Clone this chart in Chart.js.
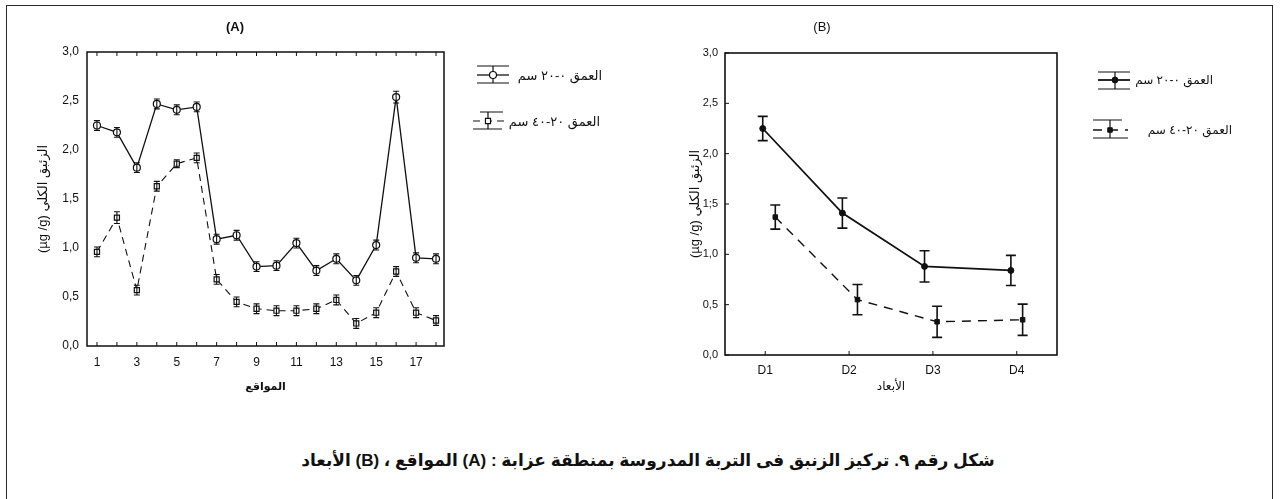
<!DOCTYPE html>
<html>
<head>
<meta charset="utf-8">
<script src="https://cdn.jsdelivr.net/npm/chart.js@4.4.0/dist/chart.umd.min.js"></script>
<style>
html,body{margin:0;padding:0;background:#fff;}
#wrap{position:relative;width:1280px;height:499px;overflow:hidden;background:#fff;font-family:'Liberation Sans','DejaVu Sans',Arial,sans-serif;color:#111;}
#frame{position:absolute;left:6px;top:5px;width:1267px;height:560px;border:1.5px solid #2a2a2a;box-sizing:border-box;}
canvas{position:absolute;top:0;}
#cA{left:0;}
#cB{left:660px;}
.ptitle{position:absolute;top:19px;width:80px;text-align:center;font-size:13px;}
#tA{left:195px;font-weight:bold;}
#tB{left:782px;}
#caption{position:absolute;left:240px;width:816px;top:450px;text-align:center;direction:rtl;font-weight:bold;font-size:17px;}
</style>
</head>
<body>
<div id="wrap">
  <div id="frame"></div>
  <canvas id="cA" width="660" height="410"></canvas>
  <canvas id="cB" width="620" height="410"></canvas>
  <div class="ptitle" id="tA">(A)</div>
  <div class="ptitle" id="tB">(B)</div>
  <div id="caption">شكل رقم ٩.  تركيز الزنبق فى التربة المدروسة بمنطقة عزابة : (A) المواقع ، (B) الأبعاد</div>
</div>
<script>
// ---------- DATA ----------
const seriesLabels = ['العمق ٠-٢٠ سم', 'العمق ٢٠-٤٠ سم'];
const yTickValues = [0, 0.5, 1, 1.5, 2, 2.5, 3];
const yTickLabelsA = ['0,0', '0,5', '1,0', '1,5', '2,0', '2,5', '3,0'];
const yTickLabelsB = ['0,0', '0,5', '1,0', '1;5', '2,0', '2,5', '3,0'];
const yTitle = '(µg /g) الزئبق الكلي';

// Panel A : sites
const sites = [1, 2, 3, 4, 5, 6, 7, 8, 9, 10, 11, 12, 13, 14, 15, 16, 17, 18];
const siteTickLabels = ['1', '', '3', '', '5', '', '7', '', '9', '', '11', '', '13', '', '15', '', '17', ''];
const sitesDepth0_20 = [2.25, 2.18, 1.82, 2.47, 2.41, 2.44, 1.09, 1.13, 0.81, 0.82, 1.05, 0.77, 0.89, 0.67, 1.03, 2.54, 0.90, 0.89];
const sitesErr0_20 = [0.05, 0.05, 0.05, 0.05, 0.05, 0.05, 0.05, 0.05, 0.05, 0.05, 0.05, 0.05, 0.05, 0.05, 0.05, 0.06, 0.05, 0.05];
const sitesDepth20_40 = [0.96, 1.31, 0.57, 1.63, 1.86, 1.92, 0.68, 0.45, 0.38, 0.36, 0.36, 0.38, 0.47, 0.23, 0.34, 0.76, 0.34, 0.26];
const sitesErr20_40 = [0.05, 0.06, 0.05, 0.05, 0.04, 0.05, 0.05, 0.05, 0.05, 0.05, 0.05, 0.05, 0.05, 0.05, 0.05, 0.05, 0.05, 0.05];
const sitesXTitle = 'المواقع';

// Panel B : dimensions
const dims = [1, 2, 3, 4];
const dimTickLabels = ['D1', 'D2', 'D3', 'D4'];
const dimPos0_20 = [0.97, 1.92, 2.90, 3.93];
const dimPos20_40 = [1.12, 2.10, 3.05, 4.07];
const dims0_20 = [2.25, 1.41, 0.88, 0.84];
const dimsErr0_20 = [0.12, 0.15, 0.155, 0.15];
const dims20_40 = [1.37, 0.55, 0.33, 0.35];
const dimsErr20_40 = [0.12, 0.15, 0.155, 0.155];
const dimsXTitle = 'الأبعاد';

// ---------- PLUGINS ----------
Chart.defaults.font.family = "'Liberation Sans','DejaVu Sans',Arial,sans-serif";
Chart.defaults.color = '#111';

const errorBars = {
  id: 'errorBars',
  afterDatasetsDraw(chart, args, opts) {
    const ctx = chart.ctx, ys = chart.scales.y;
    chart.data.datasets.forEach((ds, i) => {
      if (!ds.errors) return;
      const meta = chart.getDatasetMeta(i);
      ctx.save();
      ctx.strokeStyle = '#111';
      ctx.lineWidth = opts.lineWidth || 1.2;
      ctx.setLineDash([]);
      meta.data.forEach((pt, j) => {
        const v = ds.data[j].y, e = ds.errors[j];
        const x = pt.x, yt = ys.getPixelForValue(v + e), yb = ys.getPixelForValue(v - e);
        const c = opts.cap / 2;
        ctx.beginPath();
        ctx.moveTo(x, yt); ctx.lineTo(x, yb);
        ctx.moveTo(x - c, yt); ctx.lineTo(x + c, yt);
        ctx.moveTo(x - c, yb); ctx.lineTo(x + c, yb);
        ctx.stroke();
      });
      ctx.restore();
    });
  }
};

const frame = {
  id: 'frame',
  afterDraw(chart, args, opts) {
    const ctx = chart.ctx, a = chart.chartArea;
    ctx.save();
    ctx.strokeStyle = '#111';
    ctx.lineWidth = opts.lineWidth || 1.5;
    ctx.setLineDash([]);
    ctx.strokeRect(a.left, a.top, a.right - a.left, a.bottom - a.top);
    ctx.lineWidth = 1;
    const L = opts.tickLen;
    ctx.beginPath();
    chart.scales.x.ticks.forEach(t => {
      const x = chart.scales.x.getPixelForValue(t.value);
      ctx.moveTo(x, a.bottom); ctx.lineTo(x, a.bottom - L);
      if (opts.topTicks) { ctx.moveTo(x, a.top); ctx.lineTo(x, a.top + L); }
    });
    if (opts.leftTicks) {
      chart.scales.y.ticks.forEach(t => {
        const y = chart.scales.y.getPixelForValue(t.value);
        ctx.moveTo(a.left, y); ctx.lineTo(a.left + L, y);
      });
    }
    ctx.stroke();
    ctx.restore();
  }
};

const sideLegend = {
  id: 'sideLegend',
  afterDraw(chart, args, opts) {
    const ctx = chart.ctx;
    opts.items.forEach((it, i) => {
      const ds = chart.data.datasets[i];
      ctx.save();
      ctx.strokeStyle = '#111';
      ctx.lineWidth = 1.2;
      const cx = it.mx;
      ctx.setLineDash([]);
      ctx.beginPath();
      ctx.moveTo(it.topX0, it.y - it.up); ctx.lineTo(it.topX1, it.y - it.up);
      ctx.moveTo(it.botX0, it.y + it.down); ctx.lineTo(it.botX1, it.y + it.down);
      ctx.moveTo(cx, it.y - it.up); ctx.lineTo(cx, it.y + it.down);
      ctx.stroke();
      ctx.setLineDash(ds.borderDash || []);
      ctx.lineWidth = ds.borderWidth;
      ctx.beginPath();
      ctx.moveTo(it.x0, it.y); ctx.lineTo(it.x1, it.y);
      ctx.stroke();
      ctx.setLineDash([]);
      ctx.fillStyle = ds.pointBackgroundColor;
      ctx.strokeStyle = '#111';
      ctx.lineWidth = ds.pointBorderWidth;
      Chart.helpers.drawPoint(ctx, {pointStyle: ds.pointStyle, radius: ds.pointRadius, rotation: 0, borderWidth: ds.pointBorderWidth}, cx, it.y);
      ctx.fillStyle = '#111';
      ctx.font = opts.font;
      ctx.direction = 'rtl';
      ctx.textAlign = 'right';
      ctx.textBaseline = 'middle';
      ctx.fillText(ds.label, it.textRight, it.y + 1);
      ctx.restore();
    });
  }
};

function yScale(labels, width, pad, size) {
  return {
    min: 0, max: 3,
    afterBuildTicks: s => { s.ticks = yTickValues.map(v => ({value: v})); },
    afterFit: s => { s.width = width; },
    grid: {display: false, drawTicks: false},
    border: {display: false},
    ticks: {padding: pad, font: {size: size}, color: '#111', callback: (v, i) => labels[i]},
    title: {display: true, text: yTitle, font: {size: 13}, color: '#111', padding: {top: 4, bottom: 4}}
  };
}

// ---------- CHART A ----------
new Chart(document.getElementById('cA'), {
  type: 'line',
  data: {
    datasets: [
      {
        label: seriesLabels[0],
        data: sites.map((s, i) => ({x: s, y: sitesDepth0_20[i]})),
        errors: sitesErr0_20,
        borderColor: '#111', borderWidth: 1.3, tension: 0,
        pointStyle: 'circle', pointRadius: 3.5, pointBackgroundColor: '#fff', pointBorderColor: '#111', pointBorderWidth: 1.2
      },
      {
        label: seriesLabels[1],
        data: sites.map((s, i) => ({x: s, y: sitesDepth20_40[i]})),
        errors: sitesErr20_40,
        borderColor: '#111', borderWidth: 1.1, borderDash: [7, 5], tension: 0,
        pointStyle: 'rect', pointRadius: 3.6, pointBackgroundColor: '#fff', pointBorderColor: '#111', pointBorderWidth: 1.2
      }
    ]
  },
  options: {
    responsive: false, animation: false, devicePixelRatio: 1,
    layout: {padding: {left: 32, right: 216, top: 52, bottom: 8}},
    plugins: {
      legend: {display: false}, tooltip: {enabled: false},
      errorBars: {cap: 6, lineWidth: 1.1},
      frame: {tickLen: 4, topTicks: true, leftTicks: false, lineWidth: 1.5},
      sideLegend: {
        font: "13px 'Liberation Sans','DejaVu Sans',Arial,sans-serif",
        items: [
          {y: 75, x0: 477, x1: 509, mx: 493, topX0: 477, topX1: 509, botX0: 477, botX1: 509, up: 9, down: 8, textRight: 602},
          {y: 121, x0: 473, x1: 509, mx: 488, topX0: 480, topX1: 503, botX0: 473, botX1: 502, up: 9, down: 8, textRight: 600}
        ]
      }
    },
    scales: {
      x: {
        type: 'linear', min: 0.5, max: 18.4,
        afterBuildTicks: s => { s.ticks = sites.map(v => ({value: v})); },
        afterFit: s => { s.height = 56; },
        grid: {display: false, drawTicks: false},
        border: {display: false},
        ticks: {autoSkip: false, maxRotation: 0, padding: 9, font: {size: 12}, color: '#111', callback: (v, i) => siteTickLabels[i]},
        title: {display: true, text: sitesXTitle, font: {size: 11, weight: 'bold'}, color: '#111', padding: {top: 0, bottom: 8}}
      },
      y: yScale(yTickLabelsA, 55, 8, 12)
    }
  },
  plugins: [errorBars, frame, sideLegend]
});

// ---------- CHART B ----------
new Chart(document.getElementById('cB'), {
  type: 'line',
  data: {
    datasets: [
      {
        label: seriesLabels[0],
        data: dimPos0_20.map((p, i) => ({x: p, y: dims0_20[i]})),
        errors: dimsErr0_20,
        borderColor: '#111', borderWidth: 1.8, tension: 0,
        pointStyle: 'circle', pointRadius: 3, pointBackgroundColor: '#111', pointBorderColor: '#111', pointBorderWidth: 1
      },
      {
        label: seriesLabels[1],
        data: dimPos20_40.map((p, i) => ({x: p, y: dims20_40[i]})),
        errors: dimsErr20_40,
        borderColor: '#111', borderWidth: 1.4, borderDash: [9, 7], tension: 0,
        pointStyle: 'rect', pointRadius: 3.2, pointBackgroundColor: '#111', pointBorderColor: '#111', pointBorderWidth: 1
      }
    ]
  },
  options: {
    responsive: false, animation: false, devicePixelRatio: 1,
    layout: {padding: {left: 24, right: 223, top: 53, bottom: 8}},
    plugins: {
      legend: {display: false}, tooltip: {enabled: false},
      errorBars: {cap: 10, lineWidth: 1.6},
      frame: {tickLen: 4, topTicks: false, leftTicks: true, lineWidth: 1.6},
      sideLegend: {
        font: "12px 'Liberation Sans','DejaVu Sans',Arial,sans-serif",
        items: [
          {y: 80, x0: 438, x1: 470, mx: 455, topX0: 438, topX1: 470, botX0: 438, botX1: 470, up: 8, down: 9, textRight: 553},
          {y: 130, x0: 433, x1: 468, mx: 450, topX0: 433, topX1: 462, botX0: 433, botX1: 468, up: 10, down: 8, textRight: 572}
        ]
      }
    },
    scales: {
      x: {
        type: 'linear', min: 0.52, max: 4.48,
        afterBuildTicks: s => { s.ticks = dims.map(v => ({value: v})); },
        afterFit: s => { s.height = 47; },
        grid: {display: false, drawTicks: false},
        border: {display: false},
        ticks: {autoSkip: false, maxRotation: 0, padding: 8, font: {size: 12}, color: '#111', callback: (v, i) => dimTickLabels[i]},
        title: {display: true, text: dimsXTitle, font: {size: 12}, color: '#111', padding: {top: 0, bottom: 8}}
      },
      y: yScale(yTickLabelsB, 41, 7, 11)
    }
  },
  plugins: [errorBars, frame, sideLegend]
});
</script>
</body>
</html>
